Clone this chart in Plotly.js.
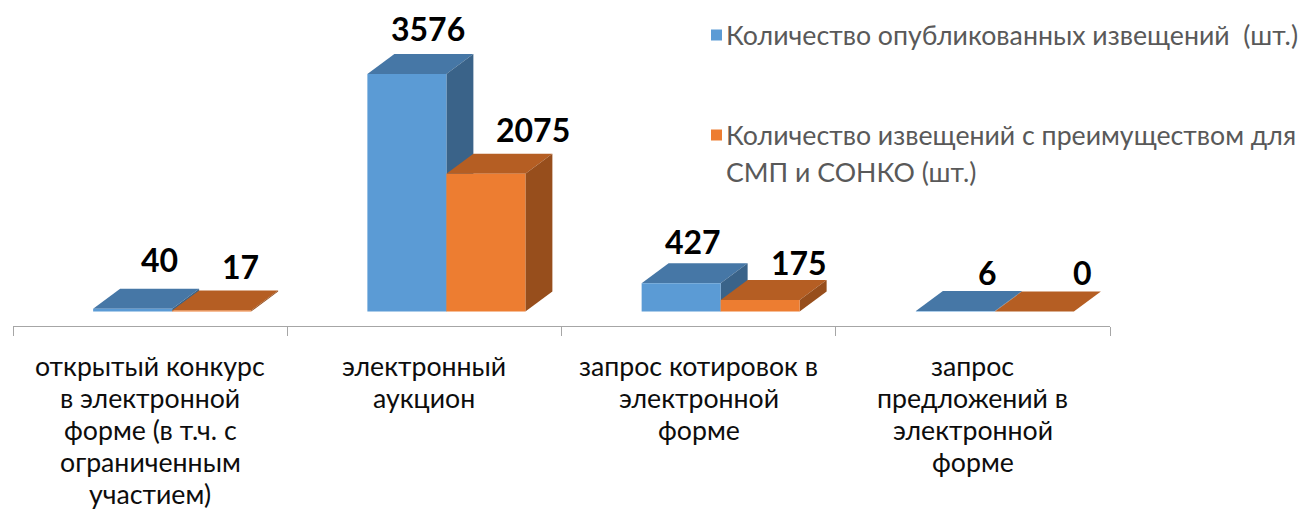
<!DOCTYPE html>
<html>
<head>
<meta charset="utf-8">
<script src="https://cdn.plot.ly/plotly-3.0.1.min.js"></script>
<style>html,body{margin:0;padding:0;background:#fff;}#chart{width:1309px;height:520px;}</style>
</head>
<body>
<div id="chart"></div>
<script>
// ---- data ----
const categories = [
  'открытый конкурс<br>в электронной<br>форме (в т.ч. с<br>ограниченным<br>участием)',
  'электронный<br>аукцион',
  'запрос котировок в<br>электронной<br>форме',
  'запрос<br>предложений в<br>электронной<br>форме'
];
const seriesNames = [
  'Количество опубликованных извещений  (шт.)',
  'Количество извещений с преимуществом для<br>СМП и СОНКО (шт.)'
];
const published = [40, 3576, 427, 6];
const smpSonko = [17, 2075, 175, 0];

// ---- style / geometry ----
const W = 1309, H = 520;
const M = {l: 13, r: 199, t: 0, b: 194};
const plotW = W - M.l - M.r, plotH = H - M.t - M.b;
const xRange = [-0.5, 3.5];
const yRange = [-218, 4691];
const pxPerX = plotW / (xRange[1] - xRange[0]);
const pxPerY = plotH / (yRange[1] - yRange[0]);
const barW = 79 / pxPerX;
const DX = 27 / pxPerX, DY = 20 / pxPerY;
const FONT = 'Lato, "Open Sans", "Noto Sans", sans-serif';
const TEXT_SIZE = 26.7;

const series = [
  {name: seriesNames[0], values: published, offset: -57 / pxPerX,
   front: '#5B9BD5', top: '#4677A6', side: '#3A6389',
   nudgeX: [27, 21, 12, 32], nudgeY: [49, 46, 42, 39]},
  {name: seriesNames[1], values: smpSonko, offset: 22 / pxPerX,
   front: '#ED7D31', top: '#B55E23', side: '#974E1C',
   nudgeX: [29, 47, 39, 48], nudgeY: [44, 44, 37, 39]}
];

const xs = categories.map((_, i) => i);
const traces = series.map(s => ({
  type: 'bar', x: xs, y: s.values, width: barW, offset: s.offset,
  marker: {color: s.front, line: {width: 0}},
  name: s.name, showlegend: false, hoverinfo: 'skip'
}));

const shapes = [];
const annotations = [];
xs.forEach(i => {
  series.forEach(s => {
    const v = s.values[i];
    const x0 = i + s.offset, x1 = x0 + barW;
    shapes.push({type: 'path', xref: 'x', yref: 'y', layer: 'below',
      path: `M${x0},${v} L${x1},${v} L${x1 + DX},${v + DY} L${x0 + DX},${v + DY} Z`,
      fillcolor: s.top, line: {width: 0}});
    shapes.push({type: 'path', xref: 'x', yref: 'y', layer: 'below',
      path: `M${x1},0 L${x1},${v} L${x1 + DX},${v + DY} L${x1 + DX},${DY} Z`,
      fillcolor: s.side, line: {width: 0}});
  });
});

// value labels
series.forEach(s => {
  s.values.forEach((v, i) => {
    annotations.push({x: i + s.offset + barW / 2, y: v, xref: 'x', yref: 'y',
      text: String(v), showarrow: false, xanchor: 'center', yanchor: 'middle',
      xshift: s.nudgeX[i], yshift: s.nudgeY[i],
      font: {family: FONT, size: 32, color: '#000000', weight: 'bold'}});
  });
});

// category labels (one annotation per line, Excel-like line spacing)
categories.forEach((c, i) => {
  c.split('<br>').forEach((line, k) => {
    annotations.push({x: i, y: 0, xref: 'x', yref: 'paper', text: line,
      showarrow: false, xanchor: 'center', yanchor: 'middle',
      yshift: -(40 + 32 * k),
      font: {family: FONT, size: TEXT_SIZE, color: '#0d0d0d'}});
  });
});

// legend (manual, Excel-like)
const px2paperX = px => (px - M.l) / plotW;
const px2paperY = py => (H - M.b - py) / plotH;
const legendRows = [35, 135];
series.forEach((s, j) => {
  const cy = legendRows[j];
  shapes.push({type: 'rect', xref: 'paper', yref: 'paper',
    x0: px2paperX(711), x1: px2paperX(722), y0: px2paperY(cy - 5.5), y1: px2paperY(cy + 5.5),
    fillcolor: s.front, line: {width: 0}});
  s.name.split('<br>').forEach((line, k) => {
    annotations.push({x: px2paperX(724), y: px2paperY(cy + 37 * k), xref: 'paper', yref: 'paper',
      text: line, showarrow: false, xanchor: 'left', yanchor: 'middle',
      font: {family: FONT, size: TEXT_SIZE, color: '#595959'}});
  });
});

const layout = {
  width: W, height: H, margin: M,
  paper_bgcolor: '#ffffff', plot_bgcolor: '#ffffff',
  barmode: 'overlay', showlegend: false,
  xaxis: {range: xRange, tickmode: 'array', tickvals: [-0.5, 0.5, 1.5, 2.5, 3.5],
    ticks: 'outside', ticklen: 9, tickcolor: '#A6A6A6', tickwidth: 1,
    showticklabels: false, showline: true, linecolor: '#A6A6A6', linewidth: 1,
    showgrid: false, zeroline: false, fixedrange: true},
  yaxis: {range: yRange, visible: false, showgrid: false, zeroline: false, fixedrange: true},
  shapes: shapes, annotations: annotations
};

Plotly.newPlot('chart', traces, layout, {displayModeBar: false, staticPlot: true});
</script>
</body>
</html>
